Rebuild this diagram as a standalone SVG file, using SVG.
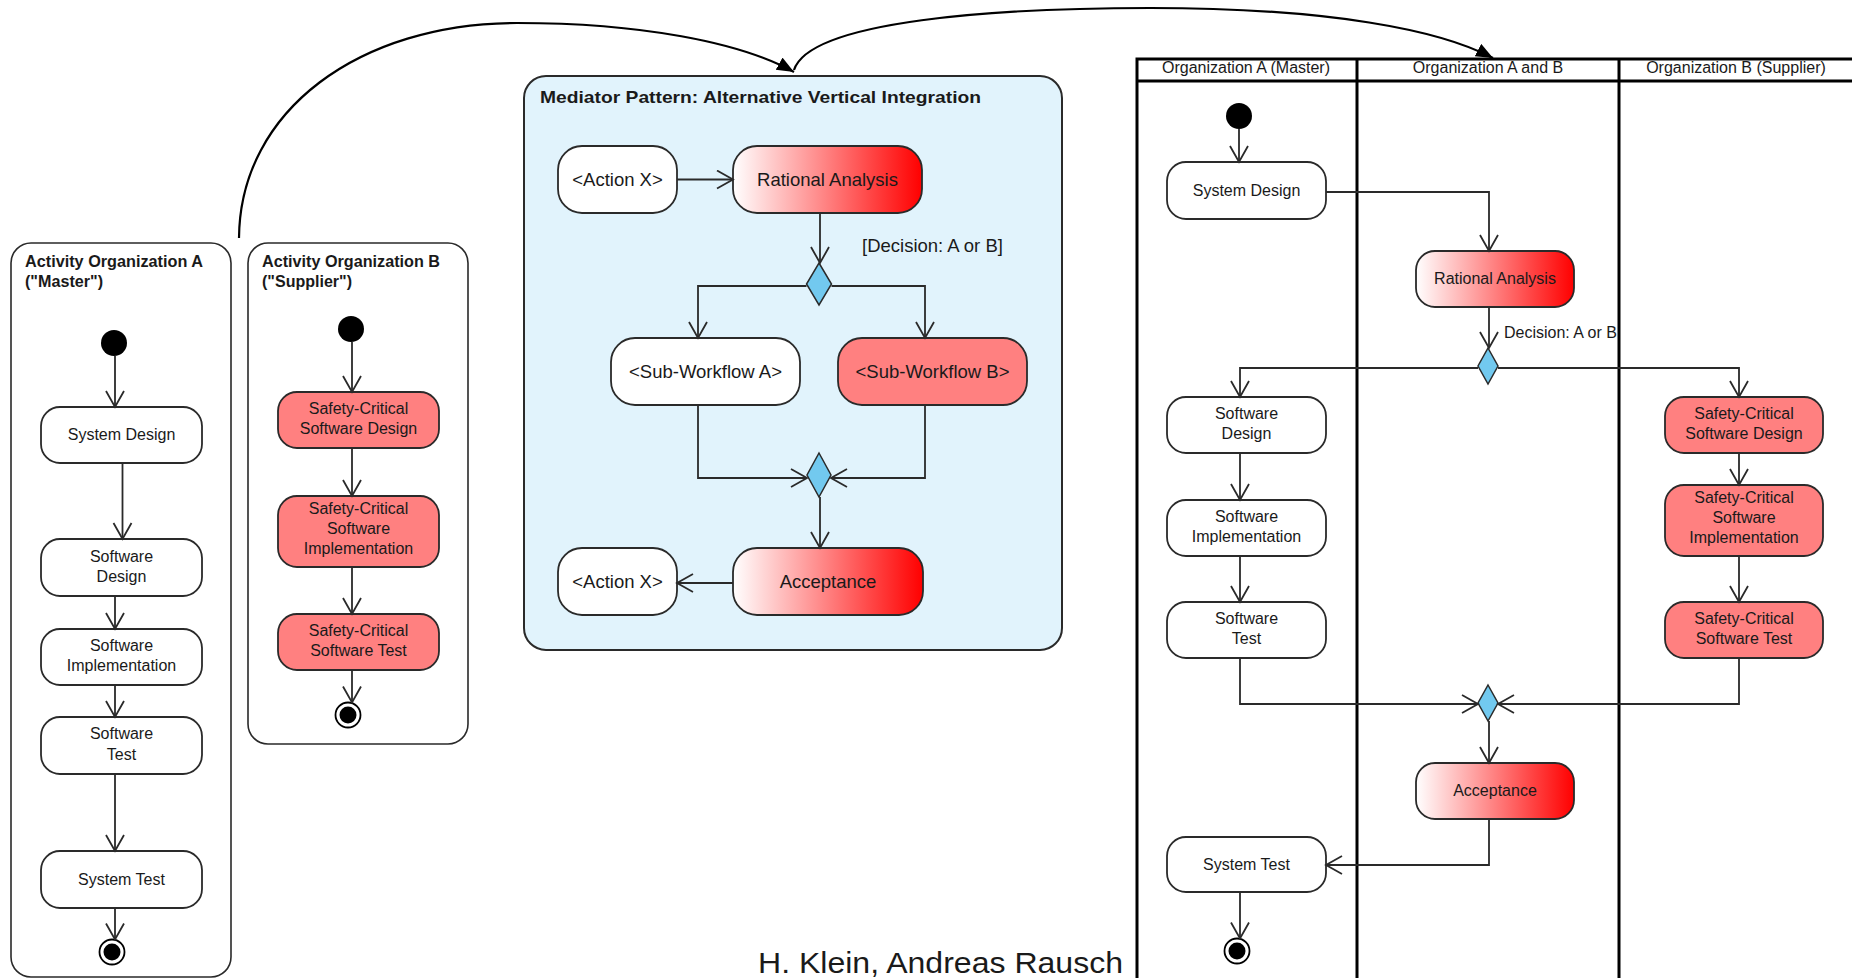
<svg xmlns="http://www.w3.org/2000/svg" width="1852" height="978" viewBox="0 0 1852 978">
  <defs>
    <style>
      text { font-family: "Liberation Sans", Arial, sans-serif; fill: #1a1a1a; }
      .t16 { font-size: 16px; text-anchor: middle; }
      .t18 { font-size: 18.5px; text-anchor: middle; }
      .title { font-size: 16px; font-weight: bold; }
      .mtitle { font-size: 17px; font-weight: bold; }
      .lane-h { font-size: 16px; text-anchor: middle; }
      .box { fill: #ffffff; stroke: #2a2a2a; stroke-width: 1.6; }
      .act { fill: #ffffff; stroke: #2a2a2a; stroke-width: 1.8; }
      .sc { fill: #ff8080; stroke: #2a2a2a; stroke-width: 1.8; }
      .grad { fill: url(#redfade); stroke: #2a2a2a; stroke-width: 1.8; }
      .mediator { fill: #e1f3fc; stroke: #2a2a2a; stroke-width: 2; }
      .dec { fill: #72c9ef; stroke: #2a2a2a; stroke-width: 1.5; }
      .flow { fill: none; stroke: #2a2a2a; stroke-width: 1.8; marker-end: url(#open); }
      .curve { fill: none; stroke: #000; stroke-width: 2.2; }
      .lane { fill: none; stroke: #000; stroke-width: 3; }
    </style>
    <linearGradient id="redfade" x1="0" y1="0" x2="1" y2="0">
      <stop offset="0" stop-color="#ffffff"/>
      <stop offset="1" stop-color="#ff0000"/>
    </linearGradient>
    <marker id="open" markerUnits="userSpaceOnUse" markerWidth="22" markerHeight="22" refX="17" refY="10" orient="auto">
      <path d="M1,1 L17,10 L1,19" fill="none" stroke="#2a2a2a" stroke-width="1.8"/>
    </marker>
    <marker id="solid" markerUnits="userSpaceOnUse" markerWidth="20" markerHeight="16" refX="17" refY="7" orient="auto">
      <path d="M0,0 L17,7 L0,14 Z" fill="#000"/>
    </marker>
  </defs>

  <rect width="1852" height="978" fill="#ffffff"/>

  <!-- Activity of organization A -->
  <g id="activity-a">
    <rect class="box" x="11" y="243" width="220" height="734" rx="20"/>
    <text class="title" x="25" y="267" textLength="178" lengthAdjust="spacingAndGlyphs">Activity Organization A</text>
    <text class="title" x="25" y="287" textLength="78" lengthAdjust="spacingAndGlyphs">("Master")</text>
  </g>
  <g id="a-start"><circle cx="114" cy="343" r="13" fill="#000"/></g>
  <g id="a-system-design">
    <rect class="act" x="41" y="407" width="161" height="56" rx="19"/>
    <text class="t16" x="121.5" y="440">System Design</text>
  </g>
  <g id="a-software-design">
    <rect class="act" x="41" y="539" width="161" height="57" rx="19"/>
    <text class="t16" x="121.5" y="562">Software</text>
    <text class="t16" x="121.5" y="582">Design</text>
  </g>
  <g id="a-software-impl">
    <rect class="act" x="41" y="629" width="161" height="56" rx="19"/>
    <text class="t16" x="121.5" y="651">Software</text>
    <text class="t16" x="121.5" y="671">Implementation</text>
  </g>
  <g id="a-software-test">
    <rect class="act" x="41" y="717" width="161" height="57" rx="19"/>
    <text class="t16" x="121.5" y="739">Software</text>
    <text class="t16" x="121.5" y="760">Test</text>
  </g>
  <g id="a-system-test">
    <rect class="act" x="41" y="851" width="161" height="57" rx="19"/>
    <text class="t16" x="121.5" y="885">System Test</text>
  </g>
  <g id="a-end">
    <circle cx="112" cy="952" r="12.5" fill="#fff" stroke="#000" stroke-width="1.8"/>
    <circle cx="112" cy="952" r="8.5" fill="#000"/>
  </g>

  <!-- Activity of organization B -->
  <g id="activity-b">
    <rect class="box" x="248" y="243" width="220" height="501" rx="20"/>
    <text class="title" x="262" y="267" textLength="178" lengthAdjust="spacingAndGlyphs">Activity Organization B</text>
    <text class="title" x="262" y="287" textLength="90" lengthAdjust="spacingAndGlyphs">("Supplier")</text>
  </g>
  <g id="b-start"><circle cx="351" cy="329" r="13" fill="#000"/></g>
  <g id="b-sc-design">
    <rect class="sc" x="278" y="392" width="161" height="56" rx="19"/>
    <text class="t16" x="358.5" y="414">Safety-Critical</text>
    <text class="t16" x="358.5" y="434">Software Design</text>
  </g>
  <g id="b-sc-impl">
    <rect class="sc" x="278" y="496" width="161" height="71" rx="19"/>
    <text class="t16" x="358.5" y="514">Safety-Critical</text>
    <text class="t16" x="358.5" y="534">Software</text>
    <text class="t16" x="358.5" y="554">Implementation</text>
  </g>
  <g id="b-sc-test">
    <rect class="sc" x="278" y="614" width="161" height="56" rx="19"/>
    <text class="t16" x="358.5" y="636">Safety-Critical</text>
    <text class="t16" x="358.5" y="656">Software Test</text>
  </g>
  <g id="b-end">
    <circle cx="348" cy="715" r="12.5" fill="#fff" stroke="#000" stroke-width="1.8"/>
    <circle cx="348" cy="715" r="8.5" fill="#000"/>
  </g>

  <!-- Mediator pattern -->
  <g id="mediator">
    <rect class="mediator" x="524" y="76" width="538" height="574" rx="22"/>
    <text class="mtitle" x="540" y="103" textLength="441" lengthAdjust="spacingAndGlyphs">Mediator Pattern: Alternative Vertical Integration</text>
  </g>
  <g id="m-action-x-in">
    <rect class="act" x="558" y="146" width="119" height="67" rx="24"/>
    <text class="t18" x="617.5" y="186">&lt;Action X&gt;</text>
  </g>
  <g id="m-rational-analysis">
    <rect class="grad" x="733" y="146" width="189" height="67" rx="24"/>
    <text class="t18" x="827.5" y="186">Rational Analysis</text>
  </g>
  <g id="m-decision">
    <path class="dec" d="M819,263 L831.5,284 L819,305 L806.5,284 Z"/>
  </g>
  <g id="m-sub-a">
    <rect class="act" x="611" y="338" width="189" height="67" rx="24"/>
    <text class="t18" x="705.5" y="378">&lt;Sub-Workflow A&gt;</text>
  </g>
  <g id="m-sub-b">
    <rect class="sc" x="838" y="338" width="189" height="67" rx="24"/>
    <text class="t18" x="932.5" y="378">&lt;Sub-Workflow B&gt;</text>
  </g>
  <g id="m-merge">
    <path class="dec" d="M819,453 L831,475 L819,497 L807,475 Z"/>
  </g>
  <g id="m-acceptance">
    <rect class="grad" x="733" y="548" width="190" height="67" rx="24"/>
    <text class="t18" x="828" y="588">Acceptance</text>
  </g>
  <g id="m-action-x-out">
    <rect class="act" x="558" y="548" width="119" height="67" rx="24"/>
    <text class="t18" x="617.5" y="588">&lt;Action X&gt;</text>
  </g>

  <!-- Swimlanes -->
  <g id="swimlanes">
    <path class="lane" d="M1137,978 L1137,59 L1852,59 M1137,81 L1852,81 M1357,59 L1357,978 M1619,59 L1619,978"/>
    <text class="lane-h" x="1246" y="73">Organization A (Master)</text>
    <text class="lane-h" x="1488" y="73">Organization A and B</text>
    <text class="lane-h" x="1736" y="73">Organization B (Supplier)</text>
  </g>
  <g id="l-start"><circle cx="1239" cy="116" r="13" fill="#000"/></g>
  <g id="l-system-design">
    <rect class="act" x="1167" y="162" width="159" height="57" rx="19"/>
    <text class="t16" x="1246.5" y="196">System Design</text>
  </g>
  <g id="l-rational-analysis">
    <rect class="grad" x="1416" y="251" width="158" height="56" rx="19"/>
    <text class="t16" x="1495" y="284">Rational Analysis</text>
  </g>
  <g id="l-decision">
    <path class="dec" d="M1488,348 L1498,366 L1488,384 L1478,366 Z"/>
  </g>
  <g id="l-software-design">
    <rect class="act" x="1167" y="397" width="159" height="56" rx="19"/>
    <text class="t16" x="1246.5" y="419">Software</text>
    <text class="t16" x="1246.5" y="439">Design</text>
  </g>
  <g id="l-software-impl">
    <rect class="act" x="1167" y="500" width="159" height="56" rx="19"/>
    <text class="t16" x="1246.5" y="522">Software</text>
    <text class="t16" x="1246.5" y="542">Implementation</text>
  </g>
  <g id="l-software-test">
    <rect class="act" x="1167" y="602" width="159" height="56" rx="19"/>
    <text class="t16" x="1246.5" y="624">Software</text>
    <text class="t16" x="1246.5" y="644">Test</text>
  </g>
  <g id="l-sc-design">
    <rect class="sc" x="1665" y="397" width="158" height="56" rx="19"/>
    <text class="t16" x="1744" y="419">Safety-Critical</text>
    <text class="t16" x="1744" y="439">Software Design</text>
  </g>
  <g id="l-sc-impl">
    <rect class="sc" x="1665" y="485" width="158" height="71" rx="19"/>
    <text class="t16" x="1744" y="503">Safety-Critical</text>
    <text class="t16" x="1744" y="523">Software</text>
    <text class="t16" x="1744" y="543">Implementation</text>
  </g>
  <g id="l-sc-test">
    <rect class="sc" x="1665" y="602" width="158" height="56" rx="19"/>
    <text class="t16" x="1744" y="624">Safety-Critical</text>
    <text class="t16" x="1744" y="644">Software Test</text>
  </g>
  <g id="l-merge">
    <path class="dec" d="M1488,685 L1498,703 L1488,721 L1478,703 Z"/>
  </g>
  <g id="l-acceptance">
    <rect class="grad" x="1416" y="763" width="158" height="56" rx="19"/>
    <text class="t16" x="1495" y="796">Acceptance</text>
  </g>
  <g id="l-system-test">
    <rect class="act" x="1167" y="837" width="159" height="55" rx="19"/>
    <text class="t16" x="1246.5" y="870">System Test</text>
  </g>
  <g id="l-end">
    <circle cx="1237" cy="951" r="12.5" fill="#fff" stroke="#000" stroke-width="1.8"/>
    <circle cx="1237" cy="951" r="8.5" fill="#000"/>
  </g>

  <!-- Connectors -->
  <g id="connectors">
    <!-- organization A -->
    <path class="flow" d="M115,356 L115,407"/>
    <path class="flow" d="M122.5,463 L122.5,539"/>
    <path class="flow" d="M115,596 L115,629"/>
    <path class="flow" d="M115,685 L115,717"/>
    <path class="flow" d="M115,774 L115,851"/>
    <path class="flow" d="M115,908 L115,939.5"/>
    <!-- organization B -->
    <path class="flow" d="M352,342 L352,392"/>
    <path class="flow" d="M352,448 L352,496"/>
    <path class="flow" d="M352,567 L352,614"/>
    <path class="flow" d="M352,670 L352,702.5"/>
    <!-- mediator -->
    <path class="flow" d="M677,179.5 L733,179.5"/>
    <path class="flow" d="M820,213 L820,263"/>
    <text x="862" y="252" style="font-size:18.5px">[Decision: A or B]</text>
    <path class="flow" d="M806.5,286 L698,286 L698,338"/>
    <path class="flow" d="M831.5,286 L925,286 L925,338"/>
    <path class="flow" d="M698,405 L698,478 L807,478"/>
    <path class="flow" d="M925,405 L925,478 L831,478"/>
    <path class="flow" d="M820,497 L820,548"/>
    <path class="flow" d="M733,583 L677,583"/>
    <!-- swimlanes -->
    <path class="flow" d="M1239,129 L1239,162"/>
    <path class="flow" d="M1326,192 L1489,192 L1489,251"/>
    <path class="flow" d="M1489,307 L1489,348"/>
    <text x="1504" y="338" style="font-size:16px">Decision: A or B</text>
    <path class="flow" d="M1478,368 L1240,368 L1240,397"/>
    <path class="flow" d="M1498,368 L1739,368 L1739,397"/>
    <path class="flow" d="M1240,453 L1240,500"/>
    <path class="flow" d="M1240,556 L1240,602"/>
    <path class="flow" d="M1739,453 L1739,485"/>
    <path class="flow" d="M1739,556 L1739,602"/>
    <path class="flow" d="M1240,658 L1240,704 L1478,704"/>
    <path class="flow" d="M1739,658 L1739,704 L1498,704"/>
    <path class="flow" d="M1489,721 L1489,763"/>
    <path class="flow" d="M1489,819 L1489,865 L1326,865"/>
    <path class="flow" d="M1240,892 L1240,938.5"/>
    <!-- links between the three views -->
    <path class="curve" marker-end="url(#solid)" d="M239,238 C240,110 360,23 517,23 C640,23 740,42 794,72"/>
    <path class="curve" marker-end="url(#solid)" d="M794,70 C810,20 1000,8 1150,8 C1330,8 1440,30 1493,58"/>
  </g>

  <text x="758" y="973" style="font-size:29px" textLength="365" lengthAdjust="spacingAndGlyphs">H. Klein, Andreas Rausch</text>
</svg>
